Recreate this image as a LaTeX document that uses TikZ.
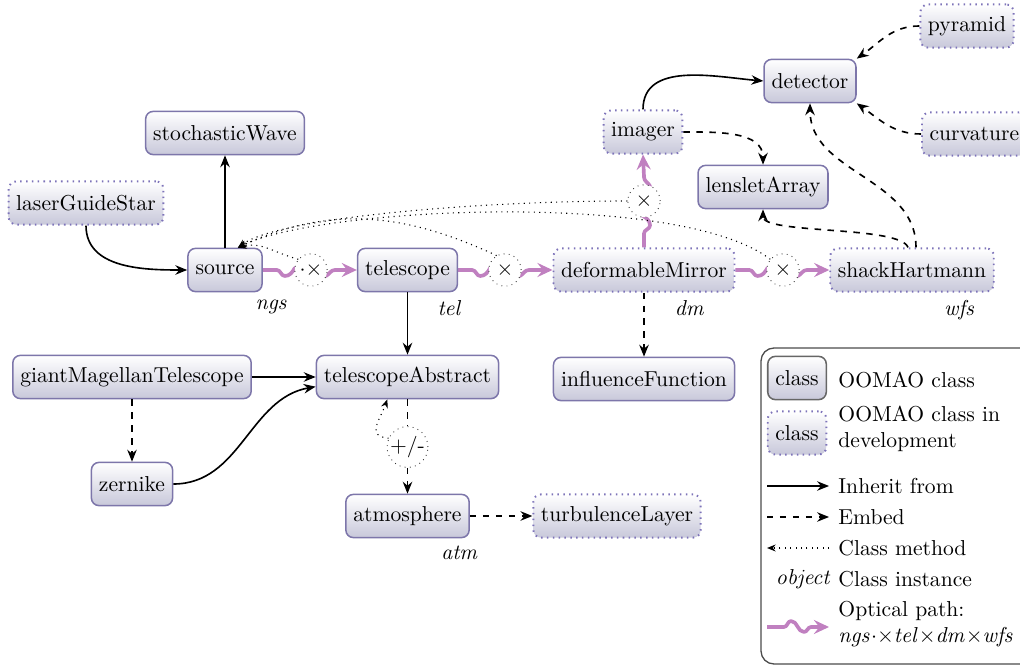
\documentclass[tikz,border=0pt]{standalone}
\usetikzlibrary{arrows.meta,calc,backgrounds}
\definecolor{bordc}{RGB}{125,118,170}
\definecolor{devc}{RGB}{125,115,185}
\definecolor{fillb}{RGB}{200,200,218}
\definecolor{optc}{RGB}{192,128,192}
\begin{document}
\begin{tikzpicture}[x=0.463pt,y=0.463pt,
 cls/.style={draw=bordc, line width=0.7pt, rounded corners=3.5pt, top color=white, bottom color=fillb, minimum height=20pt, inner xsep=3.5pt, inner ysep=2pt},
 dev/.style={cls, draw=devc, dotted, line width=0.9pt},
 opcirc/.style={circle, draw=black!80, dotted, fill=white, inner sep=0pt, minimum size=15pt},
 inh/.style={line width=0.75pt, -{Stealth[length=5.5pt,width=4.4pt,inset=1.8pt]}},
 emb/.style={inh, dashed},
 meth/.style={dotted, line width=0.5pt, -{Stealth[length=4pt,width=3.2pt,inset=1.3pt]}},
 opt/.style={draw=optc, line width=1.7pt, line join=round},
 opta/.style={opt, -{Stealth[length=7pt,width=6.5pt,inset=2.5pt]}},
 lab/.style={anchor=base, inner sep=0pt},
 legtxt/.style={anchor=west, inner sep=0pt, align=left},
]
\useasboundingbox (0,0) rectangle (1020,-666);

% nodes
\node[dev] (pyramid) at (967,-26) {pyramid};
\node[cls] (detector) at (810,-81) {detector};
\node[dev, anchor=west] (curvature) at (921,-134) {curvature};
\node[cls] (sW) at (225,-133) {stochasticWave};
\node[dev] (imager) at (643,-132) {imager};
\node[cls] (lA) at (763,-187) {lensletArray};
\node[dev] (lgs) at (86,-203) {laserGuideStar};
\node[cls] (source) at (225,-270) {source};
\node[cls] (telescope) at (407.5,-270) {telescope};
\node[dev] (dm) at (644,-270) {deformableMirror};
\node[dev] (sH) at (912,-270) {shackHartmann};
\node[opcirc] (x1) at (311,-270) {${\cdot}{\times}$};
\node[opcirc] (x2) at (505,-270) {$\times$};
\node[opcirc] (x3) at (783,-270) {$\times$};
\node[opcirc] (x4) at (644,-201) {$\times$};
\node[cls] (gMT) at (132,-377) {giantMagellanTelescope};
\node[cls] (tA) at (407.5,-377) {telescopeAbstract};
\node[cls] (iF) at (644,-379) {influenceFunction};
\node[cls] (zernike) at (132,-484) {zernike};
\node[opcirc] (pm) at (407.5,-447) {+/-};
\node[cls] (atm) at (407.5,-516) {atmosphere};
\node[dev] (tL) at (617,-516) {turbulenceLayer};

% instance labels
\node[lab] (lngs) at (272,-310) {$\mathit{ngs}$};
\node[lab] (ltel) at (450,-316) {$\mathit{tel}$};
\node[lab] (ldm) at (690,-316) {$\mathit{dm}$};
\node[lab] (lwfs) at (960,-316) {$\mathit{wfs}$};
\node[lab] (latm) at (460,-559) {$\mathit{atm}$};

% optical path
\begin{scope}[on background layer]
\draw[opt] (source.east) -- ++(14,0) to[out=0,in=180] ++(8,-6) to[out=0,in=-120] ++(10,8) -- (x1.center);
\draw[opta] (x1.center) -- ++(15,-6) to[out=30,in=180] ++(9,6) -- (telescope.west);
\draw[opt] (telescope.east) -- ++(14,0) to[out=0,in=180] ++(8,-6) to[out=0,in=-120] ++(10,8) -- (x2.center);
\draw[opta] (x2.center) -- ++(15,-6) to[out=30,in=180] ++(9,6) -- (dm.west);
\draw[opt] (dm.east) -- ++(14,0) to[out=0,in=180] ++(8,-6) to[out=0,in=-120] ++(10,8) -- (x3.center);
\draw[opta] (x3.center) -- ++(15,-6) to[out=30,in=180] ++(9,6) -- (sH.west);
\draw[opt] (dm.north) -- ++(0,14) to[out=90,in=-90] ++(6,8) to[out=90,in=-30] ++(-8,10) -- (x4.center);
\draw[opta] (x4.center) -- ++(6,15) to[out=120,in=-90] ++(-6,9) -- (imager.south);
\end{scope}

% inheritance
\draw[inh] (lgs.south) to[out=-90,in=180] (source.west);
\draw[inh] (source.north) -- (sW.south);
\draw[inh] (telescope.south) -- (tA.north);
\draw[inh] (gMT.east) -- (tA.west);
\draw[inh] (zernike.east) to[out=0,in=190] (tA.-174);
\draw[inh] (imager.north) to[out=90,in=175] (detector.west);

% embedding
\draw[emb] (gMT.south) -- (zernike.north);
\draw[emb] (atm.east) -- (tL.west);
\draw[emb] (dm.south) -- (iF.north);
\draw[dashed, line width=0.75pt] (tA.south) -- (pm.north);
\draw[emb] (pm.south) -- (atm.north);
\draw[emb] (pyramid.west) to[out=180,in=35] (detector.north east);
\draw[emb] (curvature.west) to[out=180,in=-35] (detector.south east);
\draw[emb] (sH.80) to[out=90,in=-90] (detector.south);
\draw[emb] (sH.100) .. controls +(-8,22) and +(0,-25) .. (lA.south);
\draw[emb] (imager.east) to[out=0,in=90] (lA.north);

% class methods
\draw[meth] (x1.140) to[out=165,in=15] (source.60);
\draw[meth] (x2.120) to[out=155,in=25] (source.60);
\draw[meth] (x4.west) .. controls +(-150,0) and +(40,30) .. (source.60);
\draw[meth] (x3.140) .. controls +(-91,70) and +(80,40) .. (source.60);
\draw[meth] (pm.155) to[out=175,in=-110,looseness=1.5] (tA.-132);

% legend
\draw[rounded corners=6pt, draw=black!70, line width=0.6pt] (761,-348) rectangle (1040,-664);
\node[cls, draw=black!60] (lc1) at (797,-378) {class};
\node[dev] (lc2) at (797,-433) {class};
\node[legtxt] (lt1) at (838,-380) {OOMAO class};
\node[legtxt] (lt2) at (838,-429) {OOMAO class in\\development};
\coordinate (la1) at (767,-486); \coordinate (la2) at (829,-486);
\coordinate (lb1) at (767,-517); \coordinate (lb2) at (829,-517);
\coordinate (lm1) at (767,-548); \coordinate (lm2) at (829,-548);
\coordinate (lw1) at (767,-627); \coordinate (lw2) at (829,-627);
\draw[inh] (la1) -- (la2);
\draw[emb] (lb1) -- (lb2);
\draw[meth] (lm2) -- (lm1);
\draw[opta] (lw1) -- ++(17,0) to[out=0,in=180] ++(7,6) to[out=0,in=180] ++(13,-11) to[out=0,in=180] ++(7,5) -- (lw2);
\node[legtxt] (lt3) at (838,-486) {Inherit from};
\node[legtxt] (lt4) at (838,-517) {Embed};
\node[legtxt] (lt5) at (838,-548) {Class method};
\node[legtxt] (lt6) at (838,-579) {Class instance};
\node[anchor=east, inner sep=0pt] (lobj) at (832,-579) {$\mathit{object}$};
\node[legtxt] (lt7) at (838,-624) {Optical path:\\$\mathit{ngs}{\cdot}{\times}\mathit{tel}{\times}\mathit{dm}{\times}\mathit{wfs}$};
\end{tikzpicture}
\end{document}
